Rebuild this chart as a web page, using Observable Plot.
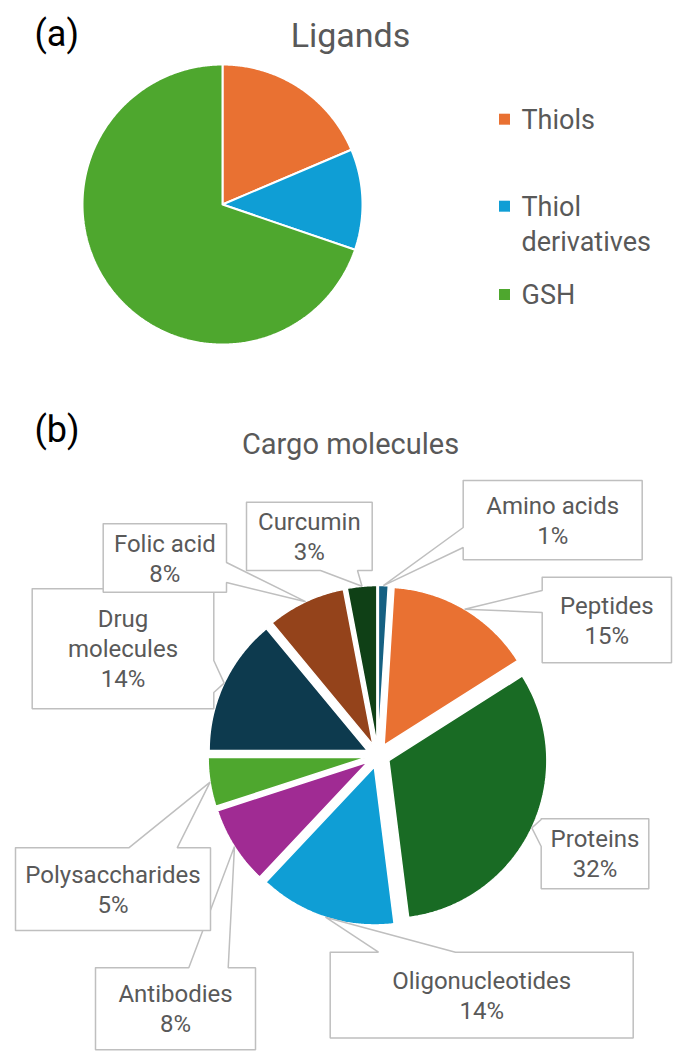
<!DOCTYPE html>
<html>
<head>
<meta charset="utf-8">
<script src="https://cdn.jsdelivr.net/npm/d3@7"></script>
<script src="https://cdn.jsdelivr.net/npm/@observablehq/plot@0.6"></script>
<style>
  html, body { margin: 0; padding: 0; background: #ffffff; }
  #chart svg { display: block; }
</style>
</head>
<body>
<div id="chart"></div>
<script>
// ---------- data ----------
const ligandNames  = ["Thiols", "Thiol derivatives", "GSH"];
const ligandValues = [16, 10, 60];
const ligandColors = ["#E97132", "#0F9ED5", "#4EA72E"];

const cargoNames  = ["Amino acids", "Peptides", "Proteins", "Oligonucleotides", "Antibodies",
                     "Polysaccharides", "Drug molecules", "Folic acid", "Curcumin"];
const cargoValues = [1, 15, 32, 14, 8, 5, 14, 8, 3];
const cargoColors = ["#156082", "#E97132", "#196B24", "#0F9ED5", "#A02B93",
                     "#4EA72E", "#0D3A4E", "#94431B", "#0F4016"];

// ---------- layout (pixels) ----------
const W = 682, H = 1062;
const FONT = "Roboto, 'Open Sans', sans-serif";
const pieA = {cx: 222, cy: 204, r: 140, explode: 0};
const pieB = {cx: 377.5, cy: 755, r: 158, explode: 12};
const legendLayout = {xSquare: 504, xText: 521, ys: [118.7, 205.7, 294], fontSize: 27, lineHeight: 1.32};
// callout boxes [x1, y1, x2, y2], side carrying the pointer, pointer base along that side
const cargoCallouts = [
  {box: [462.7, 480, 641.7, 559.3],  side: "left",   base: [527, 547]},
  {box: [541.7, 576.7, 671, 662.3],  side: "left",   base: [590, 612]},
  {box: [540.7, 818.3, 648.3, 888.3], side: "left",  base: [819, 846]},
  {box: [329.7, 951.7, 632.7, 1037.5], side: "top",  base: [378, 455]},
  {box: [95, 967.3, 255, 1049.3],    side: "top",    base: [188.3, 227.7]},
  {box: [15, 847.3, 210, 930],       side: "top",    base: [128.3, 176.7]},
  {box: [31.7, 588.3, 213.3, 708.3], side: "right",  base: [660, 692]},
  {box: [102.7, 523.3, 226, 591.7],  side: "right",  base: [562, 582]},
  {box: [246, 501.7, 371.7, 570],    side: "bottom", base: [320, 357]}
];

// ---------- geometry from data ----------
function pieGeometry(names, values, colors, pie, key) {
  const total = d3.sum(values);
  let acc = 0;
  const points = [], slices = [];
  names.forEach((name, i) => {
    const a0 = acc / total * 2 * Math.PI;
    acc += values[i];
    const a1 = acc / total * 2 * Math.PI;
    const mid = (a0 + a1) / 2;
    const ox = pie.cx + pie.explode * Math.sin(mid);
    const oy = pie.cy - pie.explode * Math.cos(mid);
    const id = key + i;
    const n = Math.max(2, Math.ceil((a1 - a0) / (Math.PI / 360)));
    points.push({id, color: colors[i], x: ox, y: oy});
    for (let k = 0; k <= n; k++) {
      const a = a0 + (a1 - a0) * k / n;
      points.push({id, color: colors[i], x: ox + pie.r * Math.sin(a), y: oy - pie.r * Math.cos(a)});
    }
    points.push({id, color: colors[i], x: ox, y: oy});
    slices.push({name, value: values[i], share: values[i] / total,
                 tip: [ox + pie.r * Math.sin(mid), oy - pie.r * Math.cos(mid)]});
  });
  return {points, slices};
}

const geoA = pieGeometry(ligandNames, ligandValues, ligandColors, pieA, "a");
const geoB = pieGeometry(cargoNames, cargoValues, cargoColors, pieB, "b");

function calloutPolygon(c, tip, id) {
  const [x1, y1, x2, y2] = c.box, [b1, b2] = c.base;
  let p;
  if (c.side === "top") p = [[x1, y1], [b1, y1], tip, [b2, y1], [x2, y1], [x2, y2], [x1, y2]];
  else if (c.side === "right") p = [[x1, y1], [x2, y1], [x2, b1], tip, [x2, b2], [x2, y2], [x1, y2]];
  else if (c.side === "bottom") p = [[x1, y1], [x2, y1], [x2, y2], [b2, y2], tip, [b1, y2], [x1, y2]];
  else p = [[x1, y1], [x2, y1], [x2, y2], [x1, y2], [x1, b2], tip, [x1, b1]];
  p.push(p[0]);
  return p.map(([x, y]) => ({id, x, y}));
}

const calloutPoints = cargoCallouts.flatMap((c, i) => calloutPolygon(c, geoB.slices[i].tip, "c" + i));
const cargoLabels = geoB.slices.map((s, i) => {
  const [x1, y1, x2, y2] = cargoCallouts[i].box;
  return {x: (x1 + x2) / 2, y: (y1 + y2) / 2, text: s.name + "\n" + Math.round(s.share * 100) + "%"};
});
const legendItems = ligandNames.map((name, i) => ({name, color: ligandColors[i], y: legendLayout.ys[i]}));

const titles = [
  {x: 350, y: 46.7, text: "Ligands", size: 34, color: "#595959", anchor: "middle"},
  {x: 350, y: 453, text: "Cargo molecules", size: 29, color: "#595959", anchor: "middle"}
];
const panelTags = [
  {x: 34, y: 45, text: "(a)"},
  {x: 34, y: 441, text: "(b)"}
];

// ---------- plot ----------
const chart = Plot.plot({
  width: W,
  height: H,
  margin: 0,
  style: {background: "#ffffff", fontFamily: FONT},
  x: {domain: [0, W], range: [0, W], axis: null},
  y: {domain: [0, H], range: [0, H], axis: null},
  color: {type: "identity"},
  marks: [
    // pie (a)
    Plot.line(geoA.points, {x: "x", y: "y", z: "id", fill: "color", stroke: "#ffffff",
      strokeWidth: 2, curve: "linear", strokeLinejoin: "miter"}),
    // pie (b), exploded
    Plot.line(geoB.points, {x: "x", y: "y", z: "id", fill: "color", stroke: "#ffffff",
      strokeWidth: 1.5, curve: "linear", strokeLinejoin: "miter"}),
    // callout boxes with pointers
    Plot.line(calloutPoints, {x: "x", y: "y", z: "id", fill: "#ffffff", stroke: "#BFBFBF",
      strokeWidth: 1.5, curve: "linear", strokeLinejoin: "miter"}),
    Plot.text(cargoLabels, {x: "x", y: "y", text: "text", fontSize: 24, fill: "#595959",
      fontFamily: FONT, textAnchor: "middle", lineAnchor: "middle", lineHeight: 1.25,
      lineWidth: 6.3, dy: -1}),
    // legend for (a)
    Plot.dot(legendItems, {x: () => legendLayout.xSquare, y: "y", symbol: "square", r: 6.2,
      fill: "color", stroke: null}),
    Plot.text(legendItems, {x: () => legendLayout.xText, y: "y", text: "name",
      fontSize: legendLayout.fontSize, fill: "#595959", fontFamily: FONT, textAnchor: "start",
      lineAnchor: "top", lineHeight: legendLayout.lineHeight, lineWidth: 5.9,
      dy: (0.355 - 0.71 * legendLayout.lineHeight) * legendLayout.fontSize}),
    // titles
    Plot.text(titles.slice(0, 1), {x: "x", y: "y", text: "text", fontSize: 34, fill: "#595959",
      fontFamily: FONT, textAnchor: "middle", lineAnchor: "bottom"}),
    Plot.text(titles.slice(1), {x: "x", y: "y", text: "text", fontSize: 29, fill: "#595959",
      fontFamily: FONT, textAnchor: "middle", lineAnchor: "bottom"}),
    Plot.text(panelTags, {x: "x", y: "y", text: "text", fontSize: 36, fill: "#000000",
      fontFamily: FONT, textAnchor: "start", lineAnchor: "bottom"})
  ]
});
document.getElementById("chart").appendChild(chart);
</script>
</body>
</html>
